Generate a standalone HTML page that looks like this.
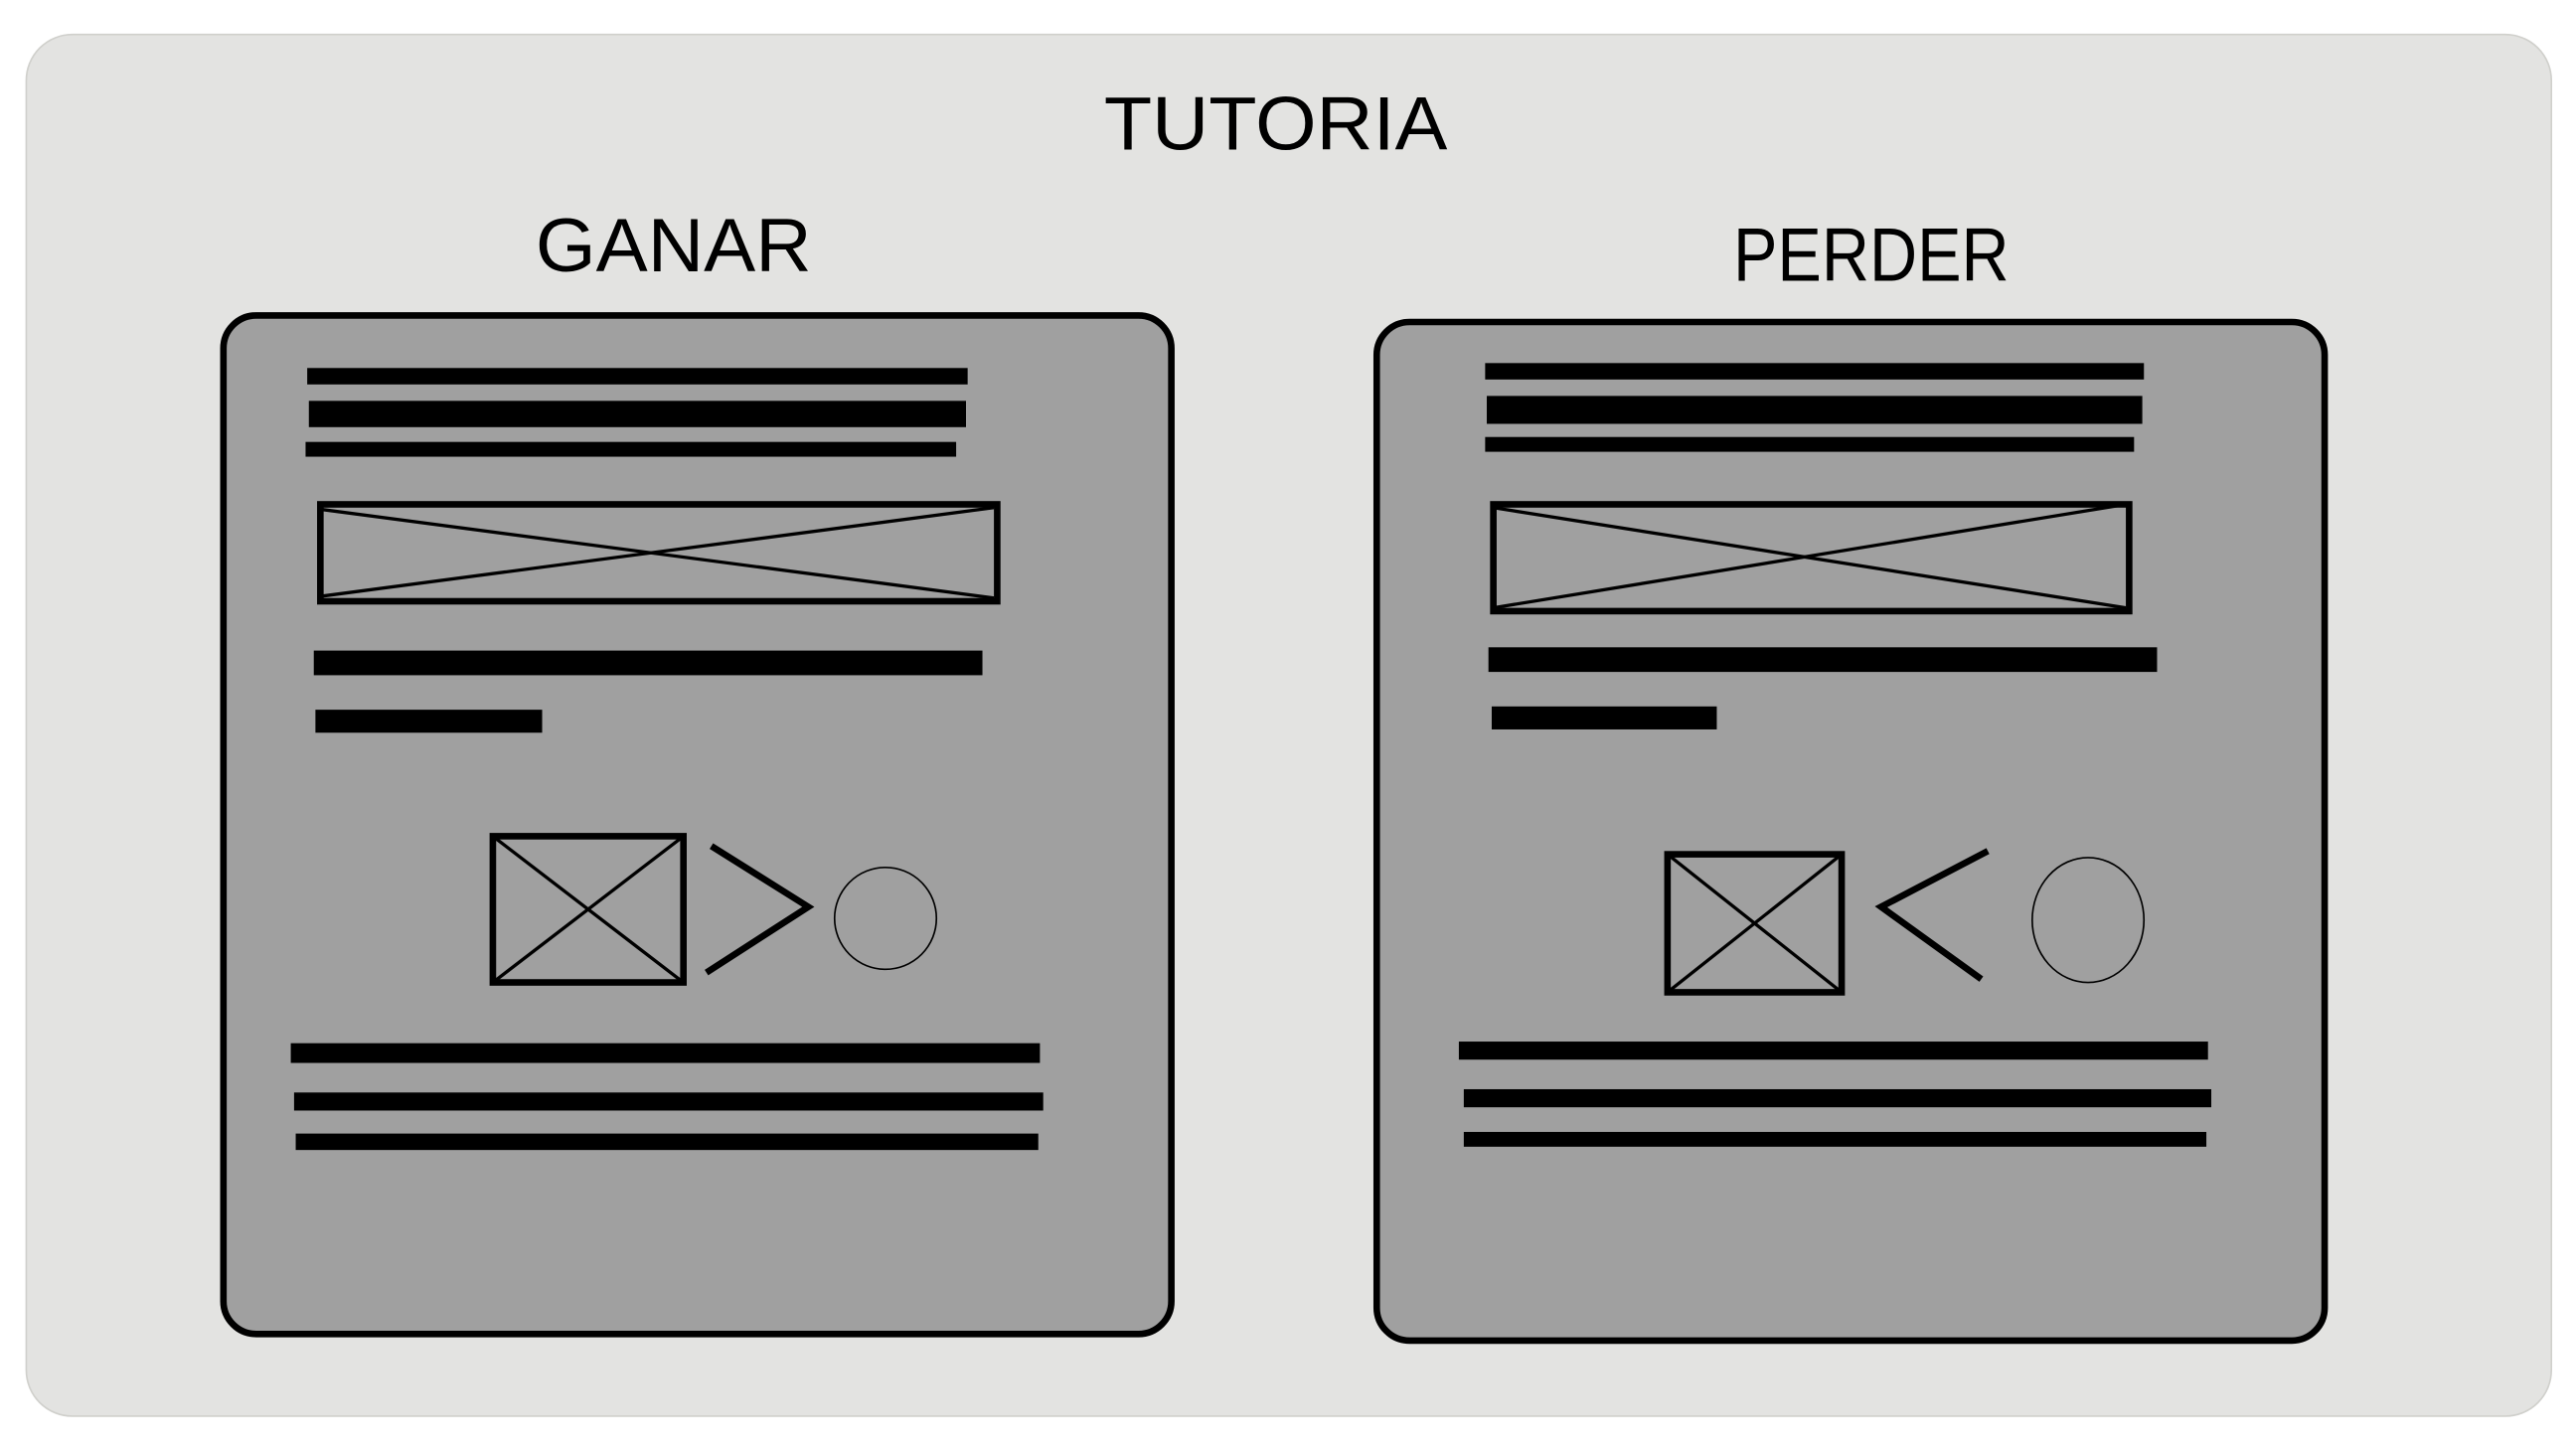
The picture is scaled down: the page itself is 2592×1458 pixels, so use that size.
<!DOCTYPE html>
<html><head><meta charset="utf-8"><style>
html,body{margin:0;padding:0;background:#fff;}
svg{display:block;}
text{font-family:"Liberation Sans",sans-serif;}
</style></head><body>
<svg width="2592" height="1458" viewBox="0 0 1568 882" preserveAspectRatio="none" xmlns="http://www.w3.org/2000/svg">
<rect x="16" y="21" width="1537" height="841" rx="28" fill="#e3e3e1" stroke="#d0d0cc" stroke-width="1"/>
<text x="672" y="91" font-size="46" textLength="209" lengthAdjust="spacingAndGlyphs" fill="#000">TUTORIA</text>
<text x="326" y="165" font-size="46" textLength="168" lengthAdjust="spacingAndGlyphs" fill="#000">GANAR</text>
<text x="1055" y="171" font-size="46" textLength="168" lengthAdjust="spacingAndGlyphs" fill="#000">PERDER</text>
<g fill="#000">
<rect x="136" y="192" width="577" height="620" rx="20" fill="#a0a0a0" stroke="#000" stroke-width="4"/>
<rect x="187" y="224" width="402" height="10"/>
<rect x="188" y="244" width="400" height="16"/>
<rect x="186" y="269" width="396" height="9"/>
<rect x="195" y="307" width="412" height="59" fill="none" stroke="#000" stroke-width="4"/>
<line x1="195" y1="310" x2="605" y2="364" stroke="#000" stroke-width="2"/>
<line x1="195" y1="363" x2="605" y2="309" stroke="#000" stroke-width="2"/>
<rect x="191" y="396" width="407" height="15"/>
<rect x="192" y="432" width="138" height="14"/>
<rect x="300" y="509" width="116" height="89" fill="none" stroke="#000" stroke-width="4"/>
<line x1="300" y1="509" x2="416" y2="598" stroke="#000" stroke-width="2"/>
<line x1="416" y1="509" x2="300" y2="598" stroke="#000" stroke-width="2"/>
<polyline points="433,515 492,552 430,592" fill="none" stroke="#000" stroke-width="4"/>
<circle cx="539" cy="559" r="31" fill="none" stroke="#000" stroke-width="1"/>
<rect x="177" y="635" width="456" height="12"/>
<rect x="179" y="665" width="456" height="11"/>
<rect x="180" y="690" width="452" height="10"/>
<rect x="838" y="196" width="577" height="620" rx="20" fill="#a0a0a0" stroke="#000" stroke-width="4"/>
<rect x="904" y="221" width="401" height="10"/>
<rect x="905" y="241" width="399" height="17"/>
<rect x="904" y="266" width="395" height="9"/>
<rect x="909" y="307" width="387" height="65" fill="none" stroke="#000" stroke-width="4"/>
<line x1="909" y1="309" x2="1294" y2="370" stroke="#000" stroke-width="2"/>
<line x1="909" y1="370" x2="1294" y2="307" stroke="#000" stroke-width="2"/>
<rect x="906" y="394" width="407" height="15"/>
<rect x="908" y="430" width="137" height="14"/>
<rect x="1015" y="520" width="106" height="84" fill="none" stroke="#000" stroke-width="4"/>
<line x1="1015" y1="520" x2="1121" y2="604" stroke="#000" stroke-width="2"/>
<line x1="1121" y1="520" x2="1015" y2="604" stroke="#000" stroke-width="2"/>
<polyline points="1210,518 1145,552 1206,596" fill="none" stroke="#000" stroke-width="4"/>
<ellipse cx="1271" cy="560" rx="34" ry="38" fill="none" stroke="#000" stroke-width="1"/>
<rect x="888" y="634" width="456" height="11"/>
<rect x="891" y="663" width="455" height="11"/>
<rect x="891" y="689" width="452" height="9"/>
</g>
</svg>
</body></html>
